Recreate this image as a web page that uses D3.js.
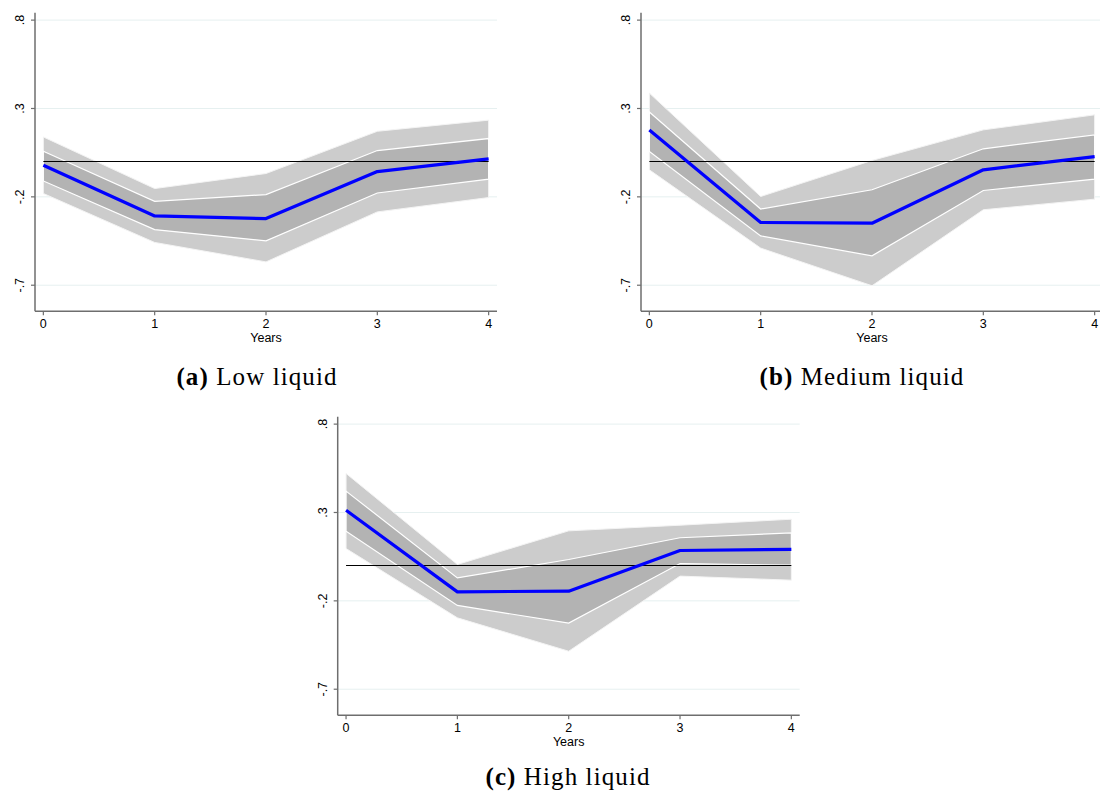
<!DOCTYPE html>
<html>
<head>
<meta charset="utf-8">
<script src="https://cdn.jsdelivr.net/npm/d3@7"></script>
<style>
  body { margin: 0; background: #fff; }
  svg { display: block; }
  .tick-label { font-family: "Liberation Sans", Arial, sans-serif; font-size: 12.5px; fill: #000; }
  .caption { font-family: "Liberation Serif", "DejaVu Serif", serif; font-size: 25px; letter-spacing: 1.1px; fill: #000; }
</style>
</head>
<body>
<svg id="chart" width="1100" height="796"></svg>
<script>
const years = [0, 1, 2, 3, 4];
const yTicks = [-0.7, -0.2, 0.3, 0.8];
const yTickLabels = ['-.7', '-.2', '.3', '.8'];

// Low liquid
const lowEst     = [-0.021, -0.308, -0.323, -0.057, 0.015];
const lowInnerHi = [0.058, -0.225, -0.187, 0.062, 0.130];
const lowInnerLo = [-0.110, -0.385, -0.449, -0.178, -0.100];
const lowOuterHi = [0.139, -0.153, -0.068, 0.171, 0.234];
const lowOuterLo = [-0.181, -0.458, -0.568, -0.285, -0.204];

// Medium liquid
const medEst     = [0.178, -0.345, -0.349, -0.047, 0.028];
const medInnerHi = [0.280, -0.269, -0.160, 0.072, 0.151];
const medInnerLo = [0.057, -0.421, -0.534, -0.164, -0.100];
const medOuterHi = [0.387, -0.198, 0.006, 0.179, 0.264];
const medOuterLo = [-0.047, -0.490, -0.703, -0.273, -0.213];

// High liquid
const highEst     = [0.313, -0.149, -0.145, 0.085, 0.091];
const highInnerHi = [0.421, -0.070, 0.034, 0.157, 0.185];
const highInnerLo = [0.194, -0.226, -0.326, 0.011, 0.002];
const highOuterHi = [0.521, 0.006, 0.196, 0.228, 0.262];
const highOuterLo = [0.096, -0.296, -0.485, -0.060, -0.083];

const panels = [
    { tag: '(a)', name: 'Low liquid', left: 35, top: 12.7, est: lowEst,
      innerHi: lowInnerHi, innerLo: lowInnerLo, outerHi: lowOuterHi, outerLo: lowOuterLo, capX: 257, capY: 385 },
    { tag: '(b)', name: 'Medium liquid', left: 641, top: 12.7, est: medEst,
      innerHi: medInnerHi, innerLo: medInnerLo, outerHi: medOuterHi, outerLo: medOuterLo, capX: 862, capY: 385 },
    { tag: '(c)', name: 'High liquid', left: 337.7, top: 416.7, est: highEst,
      innerHi: highInnerHi, innerLo: highInnerLo, outerHi: highOuterHi, outerLo: highOuterLo, capX: 568, capY: 785 },
];

const plotW = 462;
const plotH = 298.5;

const svg = d3.select('#chart');

panels.forEach(p => {
    const x = d3.scaleLinear().domain([-0.075, 4.075]).range([0, plotW]);
    const y = d3.scaleLinear().domain([-0.847, 0.842]).range([plotH, 0]);

    const g = svg.append('g').attr('transform', `translate(${p.left}, ${p.top})`);

    // grid lines
    g.selectAll('.grid')
        .data(yTicks)
        .enter()
        .append('line')
        .attr('x1', 0)
        .attr('x2', plotW)
        .attr('y1', d => y(d))
        .attr('y2', d => y(d))
        .attr('stroke', '#e6f0f0')
        .attr('stroke-width', 1);

    const rows = years.map((yr, i) => ({
        yr, est: p.est[i], ihi: p.innerHi[i], ilo: p.innerLo[i], ohi: p.outerHi[i], olo: p.outerLo[i],
    }));

    const outer = d3.area().x(d => x(d.yr)).y0(d => y(d.olo)).y1(d => y(d.ohi));
    const inner = d3.area().x(d => x(d.yr)).y0(d => y(d.ilo)).y1(d => y(d.ihi));

    g.append('path')
        .datum(rows)
        .attr('d', outer)
        .attr('fill', '#cccccc')
        .attr('stroke', '#f4f4f4')
        .attr('stroke-width', 1);

    g.append('path')
        .datum(rows)
        .attr('d', inner)
        .attr('fill', '#b3b3b3')
        .attr('stroke', '#ffffff')
        .attr('stroke-width', 1.2);

    // zero line
    g.append('line')
        .attr('x1', x(0))
        .attr('x2', x(4))
        .attr('y1', y(0))
        .attr('y2', y(0))
        .attr('stroke', '#000')
        .attr('stroke-width', 1.2);

    g.append('path')
        .datum(rows)
        .attr('d', d3.line().x(d => x(d.yr)).y(d => y(d.est)))
        .attr('fill', 'none')
        .attr('stroke', '#0000ff')
        .attr('stroke-width', 3.2)
        .attr('stroke-linejoin', 'round');

    // axes
    const axisColor = '#6e6e6e';
    g.append('line')
        .attr('x1', 0).attr('x2', 0)
        .attr('y1', 0).attr('y2', plotH)
        .attr('stroke', axisColor).attr('stroke-width', 1.5);
    g.append('line')
        .attr('x1', 0).attr('x2', plotW)
        .attr('y1', plotH).attr('y2', plotH)
        .attr('stroke', axisColor).attr('stroke-width', 1.5);

    g.selectAll('.ytick')
        .data(yTicks)
        .enter()
        .append('line')
        .attr('x1', -4).attr('x2', 0)
        .attr('y1', d => y(d)).attr('y2', d => y(d))
        .attr('stroke', axisColor).attr('stroke-width', 1.2);

    g.selectAll('.ylab')
        .data(yTicks)
        .enter()
        .append('text')
        .classed('tick-label', true)
        .attr('transform', d => `translate(-11, ${y(d)}) rotate(-90)`)
        .attr('text-anchor', 'middle')
        .text((d, i) => yTickLabels[i]);

    g.selectAll('.xtick')
        .data(years)
        .enter()
        .append('line')
        .attr('x1', d => x(d)).attr('x2', d => x(d))
        .attr('y1', plotH).attr('y2', plotH + 4)
        .attr('stroke', axisColor).attr('stroke-width', 1.2);

    g.selectAll('.xlab')
        .data(years)
        .enter()
        .append('text')
        .classed('tick-label', true)
        .attr('x', d => x(d))
        .attr('y', plotH + 17)
        .attr('text-anchor', 'middle')
        .text(d => d);

    g.append('text')
        .classed('tick-label', true)
        .attr('x', x(2))
        .attr('y', plotH + 31)
        .attr('text-anchor', 'middle')
        .text('Years');

    const cap = svg.append('text')
        .classed('caption', true)
        .attr('x', p.capX)
        .attr('y', p.capY)
        .attr('text-anchor', 'middle');
    cap.append('tspan').attr('font-weight', 'bold').text(p.tag);
    cap.append('tspan').text(' ' + p.name);
});
</script>
</body>
</html>
